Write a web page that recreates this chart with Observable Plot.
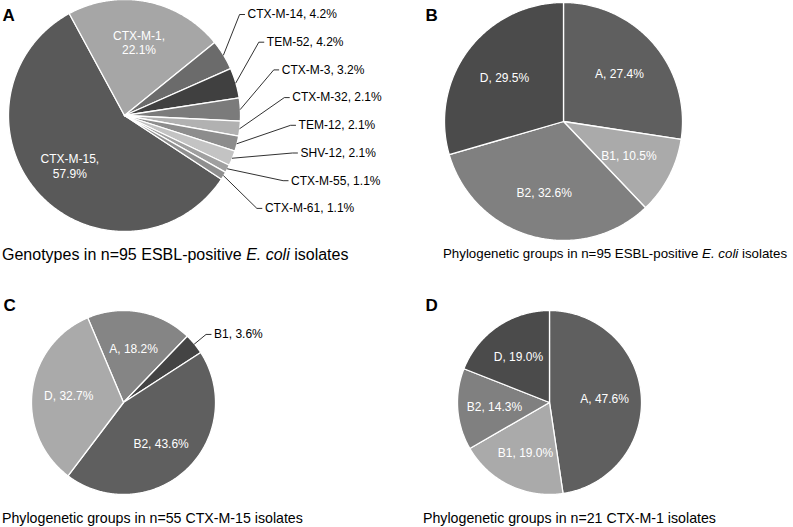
<!DOCTYPE html>
<html>
<head>
<meta charset="utf-8">
<script src="https://cdn.jsdelivr.net/npm/d3@7"></script>
<script src="https://cdn.jsdelivr.net/npm/@observablehq/plot@0.6"></script>
<style>
  html, body { margin: 0; padding: 0; background: #fff; }
  body { font-family: "Liberation Sans", Arial, sans-serif; }
  #fig { position: relative; width: 793px; height: 527px; overflow: hidden; background: #fff; }
  .panel { position: absolute; }
  .panel svg { display: block; overflow: visible; }
  .cap { position: absolute; line-height: 14px; color: #000; white-space: nowrap; }
</style>
</head>
<body>
<div id="fig"></div>
<script>
// ---------- data ----------
const genotypeNames = ["CTX-M-15", "CTX-M-1", "CTX-M-14", "TEM-52", "CTX-M-3", "CTX-M-32", "TEM-12", "SHV-12", "CTX-M-55", "CTX-M-61"];
const genotypeShares = [57.9, 22.1, 4.2, 4.2, 3.2, 2.1, 2.1, 2.1, 1.1, 1.1];

const groupNames = ["A", "B1", "B2", "D"];
const groupsAll = [27.4, 10.5, 32.6, 29.5];     // n=95 ESBL-positive E. coli
const groupsCTXM15 = [18.2, 3.6, 43.6, 32.7];   // n=55 CTX-M-15
const groupsCTXM1 = [47.6, 19.0, 14.3, 19.0];   // n=21 CTX-M-1

const panelLetters = ["A", "B", "C", "D"];
const captions = [
  "Genotypes in n=95 ESBL-positive E. coli isolates",
  "Phylogenetic groups in n=95 ESBL-positive E. coli isolates",
  "Phylogenetic groups in n=55 CTX-M-15 isolates",
  "Phylogenetic groups in n=21 CTX-M-1 isolates"
];

// ---------- styles ----------
const genotypeColors = ["#595959", "#a6a6a6", "#6b6b6b", "#404040", "#7b7b7b", "#b1b1b1", "#8d8d8d", "#c3c3c3", "#a0a0a0", "#8f8f8f"];
const groupColors = ["#5f5f5f", "#aaaaaa", "#808080", "#4b4b4b"];
const groupColorsC = ["#858585", "#444444", "#5f5f5f", "#aaaaaa"];
const FONT = "Liberation Sans, Arial, sans-serif";
const deg = Math.PI / 180;

function piePanel(o) {
  const a0 = o.start * deg;
  const arcs = d3.pie().sort(null).value(d => d).startAngle(a0).endAngle(a0 + 2 * Math.PI)(o.values);
  const slices = [], inside = [], outside = [], leaders = [];
  arcs.forEach((a, i) => {
    const name = o.names[i];
    const n = Math.max(2, Math.ceil((a.endAngle - a.startAngle) / (0.5 * deg)));
    slices.push({name, x: o.cx, y: o.cy});
    for (let k = 0; k <= n; k++) {
      const t = a.startAngle + (a.endAngle - a.startAngle) * k / n;
      slices.push({name, x: o.cx + o.r * Math.sin(t), y: o.cy - o.r * Math.cos(t)});
    }
    const m = (a.startAngle + a.endAngle) / 2;
    const pct = o.values[i].toFixed(1) + "%";
    if (o.values[i] < 5) {
      outside.push({name, pct, m});
    } else {
      inside.push({
        text: o.twoLine ? `${name},\n${pct}` : `${name}, ${pct}`,
        x: o.cx + o.labelR * o.r * Math.sin(m),
        y: o.cy - o.labelR * o.r * Math.cos(m)
      });
    }
  });
  const outLabels = [];
  outside.forEach((d, j) => {
    const rim = {x: o.cx + o.r * Math.sin(d.m), y: o.cy - o.r * Math.cos(d.m)};
    const L = o.outsideLayout(d, j, rim);
    leaders.push({id: d.name, x: rim.x, y: rim.y});
    leaders.push({id: d.name, x: L.ex, y: L.ty});
    leaders.push({id: d.name, x: L.tx - 3, y: L.ty});
    outLabels.push({text: `${d.name}, ${d.pct}`, x: L.tx, y: L.ty});
  });

  return Plot.plot({
    width: o.w, height: o.h, margin: 0,
    x: {domain: [o.x0, o.x0 + o.w], range: [0, o.w], axis: null},
    y: {domain: [o.y0, o.y0 + o.h], range: [0, o.h], axis: null},
    color: {domain: o.names, range: o.colors},
    style: {fontFamily: FONT, background: "transparent", overflow: "visible"},
    marks: [
      Plot.line(slices, {x: "x", y: "y", z: "name", fill: "name", stroke: "white", strokeWidth: 1.3, curve: "linear-closed"}),
      Plot.line(leaders, {x: "x", y: "y", z: "id", stroke: "#1a1a1a", strokeWidth: 0.9}),
      Plot.text(inside, {x: "x", y: "y", text: "text", fill: "white", fontSize: 12, lineHeight: 1.2}),
      Plot.text(outLabels, {x: "x", y: "y", text: "text", fill: "#000", fontSize: 12, textAnchor: "start"}),
      Plot.text([o.letter], {frameAnchor: "top-left", dx: o.ldx, dy: o.ldy, lineAnchor: "bottom", textAnchor: "start", fontSize: 17, fontWeight: "bold", fill: "#000"})
    ]
  });
}

const fig = document.getElementById("fig");
function place(node, left, top) {
  const div = document.createElement("div");
  div.className = "panel";
  div.style.left = left + "px";
  div.style.top = top + "px";
  div.appendChild(node);
  fig.appendChild(div);
}
function caption(text, left, top, size) {
  const div = document.createElement("div");
  div.className = "cap";
  div.style.left = left + "px";
  div.style.top = top + "px";
  div.style.fontSize = size + "px";
  const parts = text.split("E. coli");
  parts.forEach((p, i) => {
    div.appendChild(document.createTextNode(p));
    if (i < parts.length - 1) { const it = document.createElement("i"); it.textContent = "E. coli"; div.appendChild(it); }
  });
  fig.appendChild(div);
}

// Panel A
const A = {x0: 0, y0: 0, w: 400, h: 245, cx: 124, cy: 115, r: 116};
place(piePanel({
  ...A, names: genotypeNames, values: genotypeShares, colors: genotypeColors,
  start: 123.3, letter: panelLetters[0], ldx: 2, ldy: 20, labelR: 0.64, twoLine: true,
  outsideLayout: (d, j) => {
    const ty = 14 + j * 27.7;
    const delta = ty - A.cy - 36;
    const tx = A.cx + 176 - (delta < 0 ? 0.00282 : 0.011) * delta * delta;
    return {tx, ty, ex: tx - 8};
  }
}), A.x0, A.y0);

// Panel B
const B = {x0: 400, y0: 0, w: 393, h: 245, cx: 563, cy: 121, r: 119};
place(piePanel({
  ...B, names: groupNames, values: groupsAll, colors: groupColors,
  start: 0, letter: panelLetters[1], ldx: 25, ldy: 20, labelR: 0.62, twoLine: false,
  outsideLayout: () => ({tx: 0, ty: 0, ex: 0})
}), B.x0, B.y0);

// Panel C
const C = {x0: 0, y0: 285, w: 400, h: 220, cx: 123, cy: 402, r: 92};
place(piePanel({
  ...C, names: groupNames, values: groupsCTXM15, colors: groupColorsC,
  start: -22.9, letter: panelLetters[2], ldx: 3, ldy: 25, labelR: 0.6, twoLine: false,
  outsideLayout: (d, j, rim) => {
    const R = C.r + 15;
    const ex = C.cx + R * Math.sin(d.m), ty = C.cy - R * Math.cos(d.m);
    return {tx: ex + 8, ty, ex};
  }
}), C.x0, C.y0);

// Panel D
const D = {x0: 400, y0: 285, w: 393, h: 220, cx: 549, cy: 402, r: 92};
place(piePanel({
  ...D, names: groupNames, values: groupsCTXM1, colors: groupColors,
  start: 0, letter: panelLetters[3], ldx: 25, ldy: 25, labelR: 0.6, twoLine: false,
  outsideLayout: () => ({tx: 0, ty: 0, ex: 0})
}), D.x0, D.y0);

caption(captions[0], 2, 248, 16);
caption(captions[1], 443, 247, 13.3);
caption(captions[2], 2, 511, 14.2);
caption(captions[3], 423, 511, 14.2);
</script>
</body>
</html>
